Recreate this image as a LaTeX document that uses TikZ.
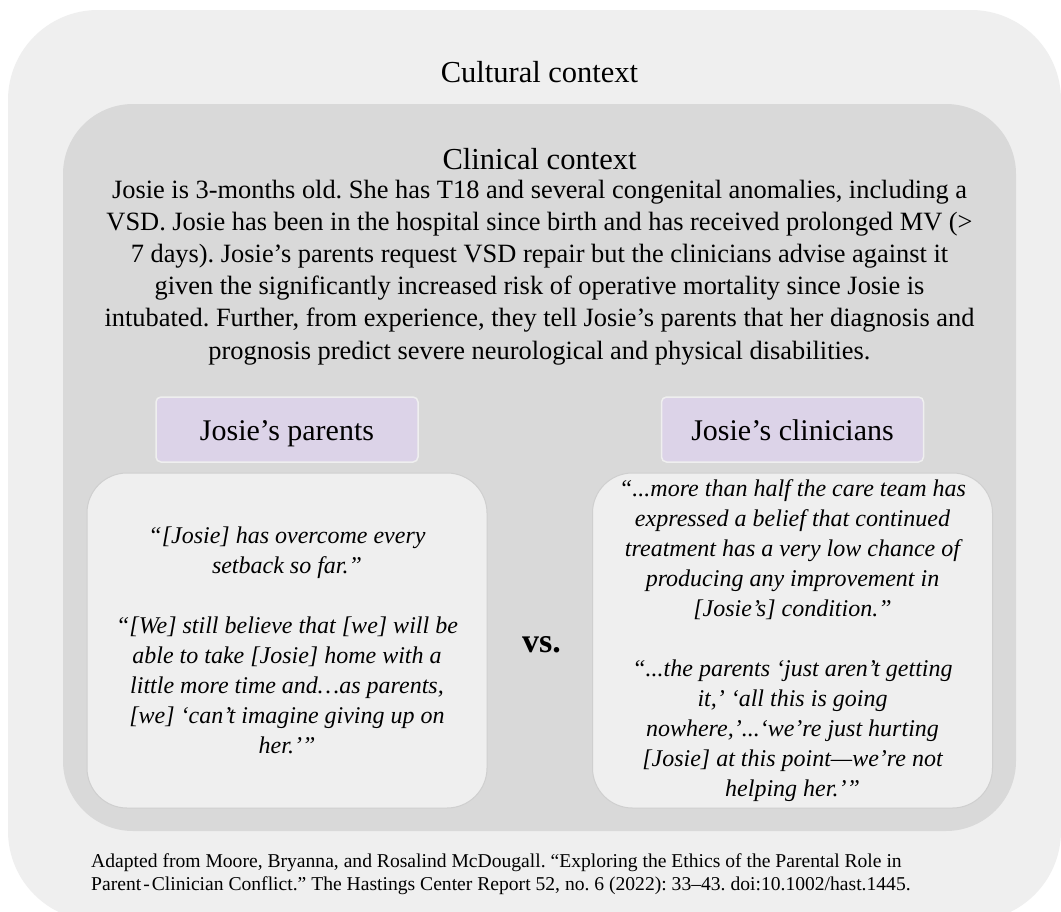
\documentclass[tikz,border=0pt]{standalone}
\usepackage{fontspec}
\setmainfont{Liberation Serif}
\frenchspacing
\definecolor{outergray}{HTML}{EFEFEF}
\definecolor{innergray}{HTML}{D9D9D9}
\definecolor{boxgray}{HTML}{EFEFEF}
\definecolor{edgegray}{HTML}{CFCFCF}
\definecolor{lavender}{HTML}{DCD3E8}
\begin{document}
\begin{tikzpicture}[x=1pt,y=-1pt,
  ctx/.style={font=\fontsize{30.5}{36}\selectfont, anchor=base},
  labelbox/.style={rectangle, rounded corners=5pt, fill=lavender, draw=outergray, line width=1.5pt, minimum width=262pt, minimum height=65pt, text height=26pt, text depth=4pt, font=\fontsize{30}{36}\selectfont},
  quotebox/.style={rectangle, rounded corners=40pt, fill=boxgray, draw=edgegray, line width=1pt, minimum width=400pt, minimum height=335pt, align=center, font=\fontsize{24}{30}\selectfont\itshape}]
  \useasboundingbox (0,0) rectangle (1061,911);
  \fill[white] (0,0) rectangle (1061,911);
  \fill[outergray, rounded corners=90pt] (8,10) rectangle (1061,921);
  \fill[innergray, rounded corners=70pt] (63,104) rectangle (1016,831);
  \node[ctx] (cultural) at (539.5,82) {Cultural context};
  \node[ctx] (clinical) at (539.5,169) {Clinical context};
  \node[align=center, anchor=base, font=\fontsize{26.4}{32.2}\selectfont] (case) at (539.5,359) {Josie is 3-months old. She has T18 and several congenital anomalies, including a\\ VSD. Josie has been in the hospital since birth and has received prolonged MV (>\\ 7 days). Josie’s parents request VSD repair but the clinicians advise against it\\ given the significantly increased risk of operative mortality since Josie is\\ intubated. Further, from experience, they tell Josie’s parents that her diagnosis and\\ prognosis predict severe neurological and physical disabilities.};
  \node[labelbox] (parents) at (287,429.5) {Josie’s parents};
  \node[labelbox] (clinicians) at (792.5,429.5) {Josie’s clinicians};
  \node[quotebox] (parentsquote) at (287,640.5) {“[Josie] has overcome every\\ setback so far.”\\[30pt] “[We] still believe that [we] will be\\ able to take [Josie] home with a\\ little more time and…as parents,\\{}[we] ‘can’t imagine giving up on\\ her.’”};
  \node[quotebox] (cliniciansquote) at (792.5,640.5) {“...more than half the care team has\\ expressed a belief that continued\\ treatment has a very low chance of\\ producing any improvement in\\{}[Josie’s] condition.”\\[30pt] “...the parents ‘just aren’t getting\\ it,’ ‘all this is going\\ nowhere,’...‘we’re just hurting\\{}[Josie] at this point—we’re not\\ helping her.’”};
  \node[font=\fontsize{34}{40}\selectfont\bfseries] (versus) at (541.5,645) {vs.};
  \node[anchor=base west, align=left, inner sep=0, font=\fontsize{19.6}{23}\selectfont] (source) at (91,890) {Adapted from Moore, Bryanna, and Rosalind McDougall. “Exploring the Ethics of the Parental Role in\\ Parent\kern2pt-\kern2pt Clinician Conflict.” The Hastings Center Report 52, no. 6 (2022): 33–43. doi:10.1002/hast.1445.};
\end{tikzpicture}
\end{document}
